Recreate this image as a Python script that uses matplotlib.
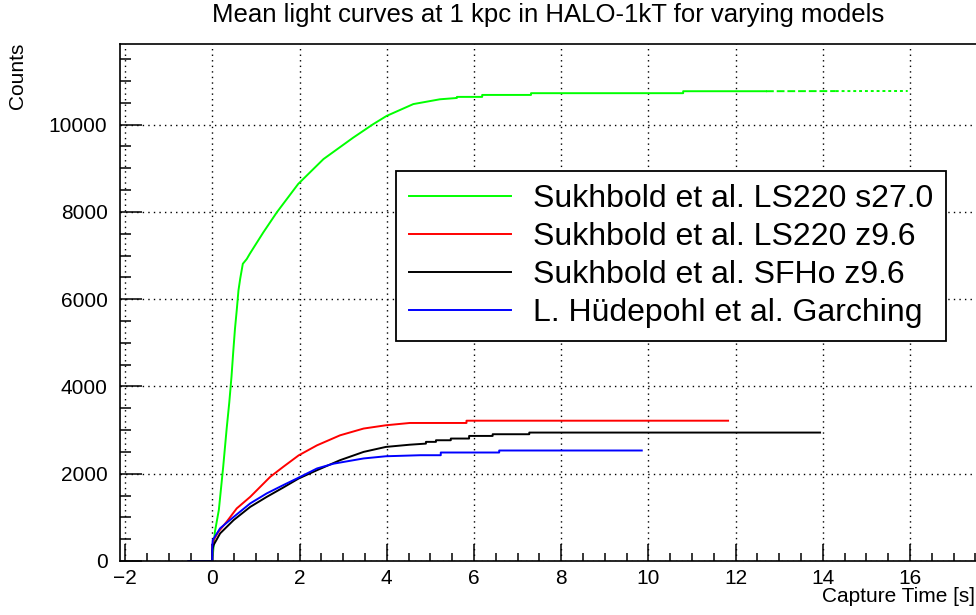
import matplotlib
matplotlib.use("Agg")
import matplotlib.pyplot as plt
from matplotlib.ticker import MultipleLocator

plt.rcParams["font.family"] = ["Liberation Sans", "DejaVu Sans"]

# cumulative counts vs capture time, one array pair per model
t_s27 = [0, 0.06, 0.15, 0.25, 0.33, 0.39, 0.44, 0.48, 0.52, 0.56, 0.60, 0.64,
         0.70, 0.79, 0.86, 0.98, 1.17, 1.48, 1.97, 2.55, 3.23, 3.69, 4.0, 4.61,
         5.22, 5.61, 5.61, 6.19, 6.19, 7.31, 7.31, 10.8, 10.8, 12.7]
c_s27 = [0, 670, 1170, 2160, 3040, 3640, 4220, 4790, 5320, 5740, 6200, 6470,
         6810, 6920, 7040, 7230, 7530, 7990, 8640, 9210, 9700, 10010, 10200, 10470,
         10580, 10610, 10635, 10635, 10680, 10680, 10720, 10720, 10765, 10765]
# last part of the s27.0 curve, drawn broken
t_s27_tail = [12.7, 14.3, 15.95]
c_s27_tail = [10765, 10768, 10770]

t_ls_z96 = [0, 0, 0.03, 0.14, 0.33, 0.56, 0.87, 1.33, 1.63, 1.98, 2.4, 2.93,
            3.47, 3.98, 4.53, 5.83, 5.83, 11.83]
c_ls_z96 = [0, 330, 480, 670, 900, 1205, 1470, 1930, 2160, 2420, 2650, 2880,
            3035, 3110, 3163, 3163, 3215, 3215]

t_sfho = [0, 0, 0.03, 0.18, 0.49, 0.87, 1.25, 1.63, 1.98, 2.4, 2.93, 3.47,
          3.98, 4.53, 4.9, 4.9, 5.13, 5.13, 5.47, 5.47, 5.89, 5.89, 6.43, 6.43,
          7.27, 7.27, 13.94]
c_sfho = [0, 250, 366, 633, 938, 1240, 1470, 1685, 1890, 2080, 2310, 2500,
          2614, 2665, 2690, 2730, 2730, 2767, 2767, 2806, 2806, 2866, 2866, 2905,
          2905, 2943, 2943]

t_garching = [-0.55, 0, 0, 0.01, 0.18, 0.49, 0.87, 1.25, 1.63, 1.98, 2.4, 2.78,
              3.47, 3.98, 4.77, 5.24, 5.24, 6.58, 6.58, 9.85]
c_garching = [0, 0, 350, 480, 750, 1010, 1320, 1550, 1740, 1910, 2120, 2230,
              2350, 2400, 2424, 2424, 2486, 2486, 2532, 2532]

labels = [
    "Sukhbold et al. LS220 s27.0",
    "Sukhbold et al. LS220 z9.6",
    "Sukhbold et al. SFHo z9.6",
    "L. Hüdepohl et al. Garching",
]

W, H = 976, 615
fig = plt.figure(figsize=(W / 100, H / 100), dpi=100)
ax = fig.add_axes([120 / W, 1 - 561 / H, (W - 120) / W, (561 - 44) / H])

lw = 1.4
ax.plot(t_s27, c_s27, color="#00ff00", lw=lw, label=labels[0])
ax.plot(t_s27_tail[:2], c_s27_tail[:2], color="#00ff00", lw=lw, ls=(0, (4, 1.5)))
ax.plot(t_s27_tail[1:], c_s27_tail[1:], color="#00ff00", lw=lw, ls=(0, (1.5, 1.5)))
ax.plot(t_ls_z96, c_ls_z96, color="#ff0000", lw=lw, label=labels[1])
ax.plot(t_sfho, c_sfho, color="black", lw=lw, label=labels[2])
ax.plot(t_garching, c_garching, color="#0000ff", lw=lw, label=labels[3])

# 43.6 px per second, t = 0 at x = 212 px
ax.set_xlim(-2.117, (W - 212.3) / 43.6)
ax.set_ylim(0, 1.1 * max(c_s27_tail))

ax.xaxis.set_major_locator(MultipleLocator(2))
ax.xaxis.set_minor_locator(MultipleLocator(0.5))
ax.yaxis.set_major_locator(MultipleLocator(2000))
ax.yaxis.set_minor_locator(MultipleLocator(500))
ax.tick_params(axis="x", which="major", direction="in", length=12, width=1.1,
               labelsize=15, pad=6)
ax.tick_params(axis="x", which="minor", direction="in", length=6, width=1.1)
ax.tick_params(axis="y", which="major", direction="in", length=16, width=1.1,
               labelsize=15, pad=9)
ax.tick_params(axis="y", which="minor", direction="in", length=8, width=1.1)
ax.grid(True, which="major", color="black", lw=1.0, ls=(0, (1, 3)))
ax.set_axisbelow(True)

for side in ["left", "bottom", "top"]:
    ax.spines[side].set_linewidth(1.2)
ax.spines["right"].set_visible(False)

leg = ax.legend(loc="upper left", bbox_to_anchor=(396 / W, 1 - 171 / H),
                bbox_transform=fig.transFigure, fontsize=23, frameon=True,
                fancybox=False, edgecolor="black", framealpha=1,
                borderaxespad=0, handlelength=3.2, handletextpad=0.7,
                labelspacing=0.25, borderpad=0.4)
leg.get_frame().set_linewidth(1.3)

fig.text(548 / W, 1 - 15 / H, "Mean light curves at 1 kpc in HALO-1kT for varying models",
         ha="center", va="center", fontsize=18.5)
fig.text(18 / W, 1 - 43 / H, "Counts", rotation=90, ha="center", va="top", fontsize=15)
fig.text(975 / W, 1 - 597 / H, "Capture Time [s]", ha="right", va="center", fontsize=15)

fig.savefig("out.png", dpi=100)
